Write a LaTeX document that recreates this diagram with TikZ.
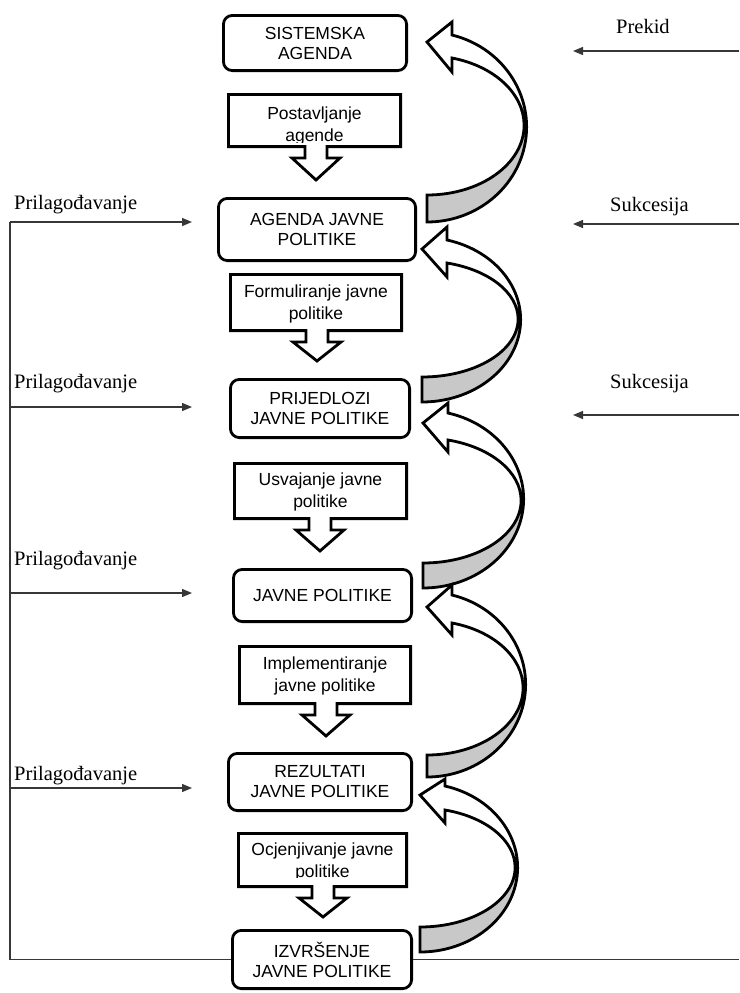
\documentclass[tikz,border=0pt]{standalone}
\usepackage{fontspec}
\setmainfont{Liberation Serif}
\newfontfamily\labelsans{Liberation Sans}
\usetikzlibrary{arrows.meta}

\definecolor{ribbonshade}{RGB}{200,200,200}
\definecolor{wire}{RGB}{55,55,55}

\tikzset{
  stage/.style={draw=black, line width=2.8pt, rounded corners=9pt, fill=white, inner sep=0pt,
                font=\labelsans\fontsize{17.5}{20}\selectfont, align=center},
  boxtext/.style={inner sep=0pt, font=\labelsans\fontsize{17.5}{20}\selectfont, align=center},
  proctext/.style={inner sep=0pt, font=\labelsans\fontsize{17.5}{21.5}\selectfont, align=center},
  procline/.style={draw=black, line width=2.8pt, fill=white, line join=miter},
  ribbon/.style={draw=black, line width=2.8pt, line join=miter},
  sidelabel/.style={inner sep=0pt, anchor=base west, font=\fontsize{20.5}{24}\selectfont},
  wirearrow/.style={draw=wire, line width=1.3pt, -{Triangle[length=10pt,width=8pt]}},
  wireline/.style={draw=wire, line width=1.3pt},
}

% rounded stage box: name, x1, y1, x2, y2 (outer edges), text
\newcommand{\stagebox}[6]{%
  \node[stage, minimum width={#4-#2-2.8}, minimum height={#5-#3-2.8}]
    (#1) at ({(#2+#4)/2},{(#3+#5)/2}) {#6};}

% block with a down arrow under it: x1, y1, x2, y2 (outer edges), tip x, tip y
\newcommand{\procframe}[6]{%
  \draw[procline] ({#1+1.4},{#2+1.4}) -- ({#3-1.4},{#2+1.4}) -- ({#3-1.4},{#4-1.4})
    -- ({#5+11},{#4-1.4}) -- ({#5+11},{#4+10}) -- ({#5+24},{#4+10}) -- (#5,{#6-2})
    -- ({#5-24},{#4+10}) -- ({#5-11},{#4+10}) -- ({#5-11},{#4-1.4})
    -- ({#1+1.4},{#4-1.4}) -- cycle;}

% twisted ribbon arrow bending back up:
% #1 x of band end and tip, #2 tip y, #3 upper barb y, #4 outer edge y at head,
% #5 inner edge y at head, #6 lower barb y, #7 rightmost x, #8/#9 band end top/bottom y
\newcommand{\ribbonarrow}[9]{%
  \pgfmathsetmacro{\rxo}{#7-#1-1.4}%
  \pgfmathsetmacro{\rxi}{#7-#1-3.9}%
  \pgfmathsetmacro{\ao}{acos(25/\rxo)}%
  \pgfmathsetmacro{\ai}{acos(25/\rxi)}%
  \pgfmathsetmacro{\ryo}{(#9-#4)/(1+sin(\ao))}%
  \pgfmathsetmacro{\ryi}{(#8-#5)/(1+sin(\ai))}%
  \pgfmathsetmacro{\cyo}{#9-\ryo}%
  \pgfmathsetmacro{\cyi}{#8-\ryi}%
  \pgfmathsetmacro{\hx}{#1+25}%
  \fill[white] (\hx,#4)
    arc[start angle=-\ao, end angle=90, x radius=\rxo, y radius=\ryo]
    -- (#1,#8)
    arc[start angle=90, end angle=-\ai, x radius=\rxi, y radius=\ryi]
    -- (\hx,#6) -- (#1,#2) -- (\hx,#3) -- cycle;
  \fill[ribbonshade] ({#1+\rxo},\cyo)
    arc[start angle=0, end angle=90, x radius=\rxo, y radius=\ryo]
    -- (#1,#8)
    arc[start angle=90, end angle=0, x radius=\rxi, y radius=\ryi] -- cycle;
  \draw[ribbon] (\hx,#4)
    arc[start angle=-\ao, end angle=90, x radius=\rxo, y radius=\ryo]
    -- (#1,#8)
    arc[start angle=90, end angle=-\ai, x radius=\rxi, y radius=\ryi]
    -- (\hx,#6) -- (#1,#2) -- (\hx,#3) -- cycle;}

\begin{document}
\begin{tikzpicture}[x=1pt, y=-1pt]
\useasboundingbox (0,0) rectangle (739,993);

% stages of the cycle
\stagebox{s1}{222}{14}{408}{72}{}
\begin{scope}
  \clip (222,14) rectangle (408,58.5);
  \node[boxtext] (s1t) at (315,43.5) {SISTEMSKA\\AGENDA};
\end{scope}
\stagebox{s2}{217}{197}{417}{262}{AGENDA JAVNE\\POLITIKE}
\stagebox{s3}{229}{378}{411}{439}{PRIJEDLOZI\\JAVNE POLITIKE}
\stagebox{s4}{232}{568}{413}{623}{JAVNE POLITIKE}
\stagebox{s5}{227}{752}{413}{812}{REZULTATI\\JAVNE POLITIKE}
\stagebox{s6}{231}{929}{413}{990}{IZVRŠENJE\\JAVNE POLITIKE}

% transitions between stages
\procframe{227}{93}{402}{148}{316}{182}
\begin{scope}
  \clip (227,93) rectangle (402,142);
  \node[proctext] (p1) at (314.5,126) {Postavljanje\\agende};
\end{scope}
\procframe{229}{273}{403}{332}{317}{363}
\node[proctext] (p2) at (316,304) {Formuliranje javne\\politike};
\procframe{233}{462}{408}{520}{320}{553}
\node[proctext] (p3) at (320.5,492) {Usvajanje javne\\politike};
\procframe{238}{645}{412}{705}{326}{738}
\node[proctext] (p4) at (325,676) {Implementiranje\\javne politike};
\procframe{237}{832}{408}{888}{323}{919}
\begin{scope}
  \clip (237,832) rectangle (408,877);
  \node[proctext] (p5) at (322.5,862) {Ocjenjivanje javne\\politike};
\end{scope}

% returning ribbons on the right
\ribbonarrow{427}{42}{22}{35}{58}{72}{528}{195}{222}
\ribbonarrow{422}{249}{227}{240}{263}{277}{522}{377}{402}
\ribbonarrow{423}{423}{403}{413}{440}{452}{525}{563}{588}
\ribbonarrow{427}{607}{585}{595}{623}{635}{527}{755}{777}
\ribbonarrow{420}{795}{779}{786}{810}{823}{519}{927}{952}

% incoming lines from the right
\node[sidelabel] (lPrekid) at (616,33) {Prekid};
\node[sidelabel] (lSuk1) at (610,211) {Sukcesija};
\node[sidelabel] (lSuk2) at (610,388) {Sukcesija};
\coordinate (rA) at (739,51);   \coordinate (rAe) at (573,51);
\coordinate (rB) at (739,224);  \coordinate (rBe) at (573,224);
\coordinate (rC) at (739,415);  \coordinate (rCe) at (573,415);
\draw[wirearrow] (rA) -- (rAe);
\draw[wirearrow] (rB) -- (rBe);
\draw[wirearrow] (rC) -- (rCe);
\coordinate (rEnd) at (739,959.5);
\draw[wireline] (s6.east) -- (rEnd);

% adjustment loop on the left
\node[sidelabel] (lAdj1) at (14,209) {Prilagođavanje};
\node[sidelabel] (lAdj2) at (14,388) {Prilagođavanje};
\node[sidelabel] (lAdj3) at (14,565) {Prilagođavanje};
\node[sidelabel] (lAdj4) at (14,780) {Prilagođavanje};
\coordinate (fbBase) at (10,959.5);
\coordinate (fb1) at (10,222);  \coordinate (fb1e) at (192,222);
\coordinate (fb2) at (10,407);  \coordinate (fb2e) at (192,407);
\coordinate (fb3) at (10,593);  \coordinate (fb3e) at (192,593);
\coordinate (fb4) at (10,788);  \coordinate (fb4e) at (192,788);
\draw[wireline] (s6.west) -- (fbBase) -- (fb1);
\draw[wirearrow] (fb1) -- (fb1e);
\draw[wirearrow] (fb2) -- (fb2e);
\draw[wirearrow] (fb3) -- (fb3e);
\draw[wirearrow] (fb4) -- (fb4e);
\end{tikzpicture}
\end{document}
